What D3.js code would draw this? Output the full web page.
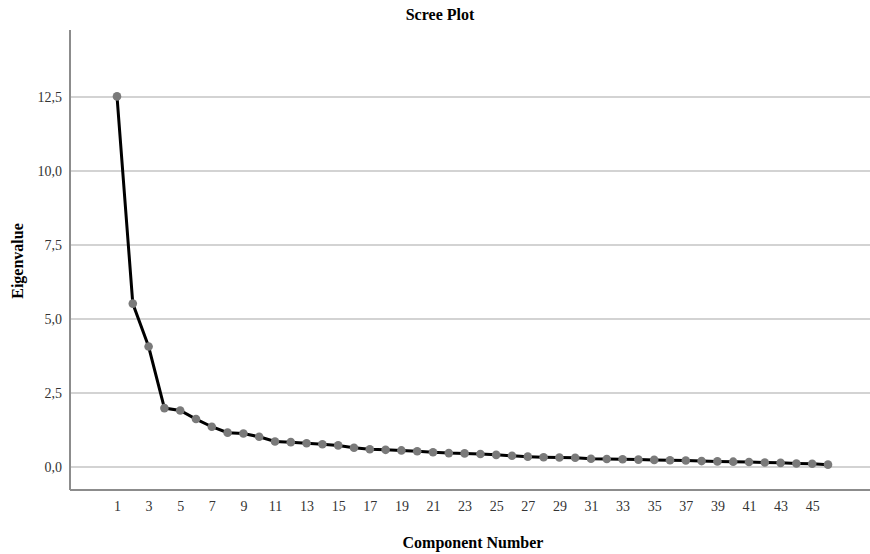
<!DOCTYPE html>
<html>
<head>
<meta charset="utf-8">
<script src="https://cdn.jsdelivr.net/npm/d3@7"></script>
<style>
  body { margin: 0; background: #fff; }
  text { font-family: "Liberation Serif", "DejaVu Serif", serif; }
</style>
</head>
<body>
<div id="chart"></div>
<script>
// eigenvalues
var components = d3.range(1, 47);
var eigenvalues = [12.52, 5.52, 4.07, 1.99, 1.91, 1.62, 1.36, 1.16, 1.13, 1.02,
    0.86, 0.84, 0.80, 0.77, 0.73, 0.65, 0.60, 0.58, 0.56, 0.53,
    0.50, 0.47, 0.46, 0.44, 0.41, 0.38, 0.35, 0.33, 0.32, 0.31,
    0.28, 0.27, 0.26, 0.25, 0.24, 0.23, 0.22, 0.20, 0.19, 0.18,
    0.17, 0.15, 0.14, 0.12, 0.11, 0.08];
var yTicks = [0, 2.5, 5, 7.5, 10, 12.5];
var xTicks = d3.range(1, 47, 2);

var W = 870, H = 554;
var plot = {left: 70, right: 870, top: 30, bottom: 490};

var x = d3.scaleLinear().domain([1, 46]).range([117, 828]);
var y = d3.scaleLinear().domain([0, 12.5]).range([467, 97]);

var data = components.map(function(c, i) { return {c: c, v: eigenvalues[i]}; });

var svg = d3.select("#chart").append("svg")
    .attr("width", W)
    .attr("height", H);

// gridlines
svg.append("g")
    .selectAll("line")
    .data(yTicks)
    .enter().append("line")
        .attr("x1", plot.left)
        .attr("x2", plot.right)
        .attr("y1", function(d) { return y(d); })
        .attr("y2", function(d) { return y(d); })
        .attr("stroke", "#c4c4c4")
        .attr("stroke-width", 1.5);

// y axis
var yAxis = svg.append("g")
    .attr("transform", "translate(" + plot.left + ",0)")
    .call(d3.axisLeft(y).tickValues(yTicks).tickSize(0).tickPadding(8)
        .tickFormat(function(d) { return d3.format(".1f")(d).replace(".", ","); }));
yAxis.select(".domain").remove();
yAxis.append("line")
    .attr("y1", plot.top).attr("y2", plot.bottom)
    .attr("stroke", "#8c8c8c").attr("stroke-width", 2);

// x axis
var xAxis = svg.append("g")
    .attr("transform", "translate(0," + plot.bottom + ")")
    .call(d3.axisBottom(x).tickValues(xTicks).tickSize(0).tickPadding(11)
        .tickFormat(d3.format("d")));
xAxis.select(".domain").remove();
xAxis.append("line")
    .attr("x1", plot.left).attr("x2", plot.right)
    .attr("stroke", "#8c8c8c").attr("stroke-width", 2);

svg.selectAll(".tick text")
    .attr("fill", "#333")
    .style("font-size", "14px");

// line
svg.append("path")
    .datum(data)
    .attr("fill", "none")
    .attr("stroke", "#000")
    .attr("stroke-width", 3)
    .attr("d", d3.line()
        .x(function(d) { return x(d.c); })
        .y(function(d) { return y(d.v); }));

// markers
svg.selectAll("circle")
    .data(data)
    .enter().append("circle")
        .attr("cx", function(d) { return x(d.c); })
        .attr("cy", function(d) { return y(d.v); })
        .attr("r", 4.3)
        .attr("fill", "#7a7a7a");

// titles
svg.append("text")
    .attr("x", 440).attr("y", 20)
    .attr("text-anchor", "middle")
    .style("font-size", "16px").style("font-weight", "bold")
    .text("Scree Plot");

svg.append("text")
    .attr("x", 473).attr("y", 548)
    .attr("text-anchor", "middle")
    .style("font-size", "16px").style("font-weight", "bold")
    .text("Component Number");

svg.append("text")
    .attr("transform", "translate(23,261) rotate(-90)")
    .attr("text-anchor", "middle")
    .style("font-size", "16px").style("font-weight", "bold")
    .text("Eigenvalue");
</script>
</body>
</html>
